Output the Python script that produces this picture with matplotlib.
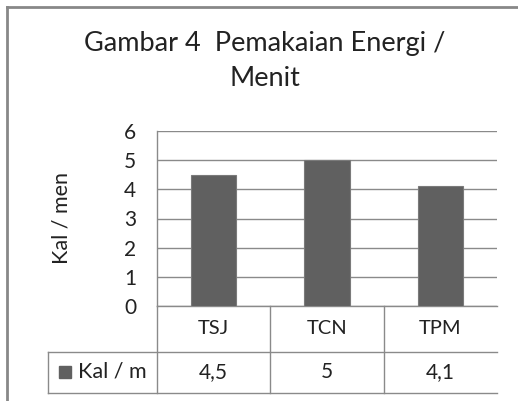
import matplotlib
matplotlib.use("Agg")
import matplotlib.pyplot as plt
from matplotlib.lines import Line2D
from matplotlib.transforms import blended_transform_factory

categories = ["TSJ", "TCN", "TPM"]
values = [4.5, 5, 4.1]
series_name = "Kal / m"
title = "Gambar 4  Pemakaian Energi /\nMenit"
y_label = "Kal / men"
y_ticks = [0, 1, 2, 3, 4, 5, 6]

plt.rcParams['font.family'] = ['Lato', 'DejaVu Sans']

W, H = 518, 401
fig = plt.figure(figsize=(W / 100, H / 100), dpi=100)
fig.patch.set_facecolor("white")

# plot area in pixels (left, top, right, bottom)
px_l, px_t, px_r, px_b = 157, 131, 497, 306
ax = fig.add_axes([px_l / W, 1 - px_b / H, (px_r - px_l) / W, (px_b - px_t) / H])

bar_color = "#606060"
line_color = "#8a8a8a"
text_color = "#222222"

x = list(range(len(categories)))
ax.bar(x, values, width=0.4, color=bar_color, edgecolor="#7a7a7a", linewidth=0.8, zorder=3)
ax.set_xlim(-0.5, len(categories) - 0.5)
ax.set_ylim(0, 6)
ax.set_yticks(y_ticks)
ax.set_yticklabels([str(t) for t in y_ticks], fontsize=15, color=text_color)
ax.set_xticks([])
ax.tick_params(axis="y", length=0, pad=15)
ax.grid(axis="y", color=line_color, linewidth=1.0, zorder=0)
for s in ["top", "right"]:
    ax.spines[s].set_visible(False)
for s in ["left", "bottom"]:
    ax.spines[s].set_color(line_color)
    ax.spines[s].set_linewidth(1.0)
ax.set_ylabel(y_label, fontsize=15.5, color=text_color, labelpad=38)

# data table under the axis
unit_px = (px_r - px_l) / len(categories)
trans = blended_transform_factory(ax.transData, ax.transAxes)

def ay(py):
    return (px_b - py) / (px_b - px_t)

def ax_x(pxx):
    return (pxx - px_l) / unit_px - 0.5

row1_bot, row2_bot = 352, 393
lbl_left = ax_x(48)
xmax = len(categories) - 0.5
kw = dict(transform=trans, color=line_color, linewidth=1.0, clip_on=False)
ax.plot([lbl_left, xmax], [ay(row1_bot)] * 2, **kw)
ax.plot([lbl_left, xmax], [ay(row2_bot)] * 2, **kw)
for b in range(len(categories)):
    ax.plot([b - 0.5] * 2, [0, ay(row2_bot)], **kw)
ax.plot([lbl_left] * 2, [ay(row1_bot), ay(row2_bot)], **kw)

for i, (c, v) in enumerate(zip(categories, values)):
    ax.text(i, ay(329), c, transform=trans, ha="center", va="center",
            fontsize=14.5, color=text_color)
    ax.text(i, ay(372), f"{v:g}".replace(".", ","), transform=trans,
            ha="center", va="center", fontsize=15, color=text_color)

ax.plot([ax_x(65)], [ay(372)], marker="s", markersize=9, color=bar_color,
        transform=trans, clip_on=False)
ax.text(ax_x(78), ay(371), series_name, transform=trans, ha="left", va="center",
        fontsize=15.5, color=text_color)

fig.text(265 / W, 1 - 61 / H, title, ha="center", va="center", fontsize=19.5,
         color=text_color, linespacing=1.55)

# chart frame (left and top edges visible)
fig.add_artist(Line2D([7 / W, 7 / W], [0, 1 - 7 / H], color="#888888", linewidth=2.0))
fig.add_artist(Line2D([7 / W, 1], [1 - 7 / H, 1 - 7 / H], color="#888888", linewidth=2.0))

fig.savefig("out.png", dpi=100, facecolor="white")
